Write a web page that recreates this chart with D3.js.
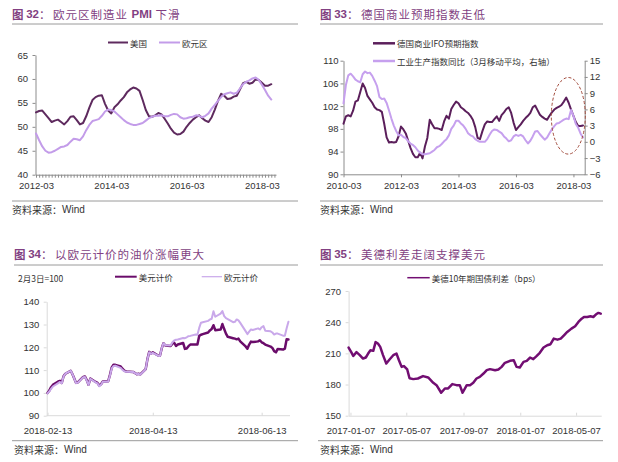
<!DOCTYPE html>
<html><head><meta charset="utf-8">
<script src="https://cdn.jsdelivr.net/npm/d3@7"></script>
<style>
body{margin:0;background:#fff;}
svg{display:block;}
</style></head><body>
<svg id="c" width="618" height="462"></svg>
<script>
// ---------- DATA ----------
// Fig 32: PMI, monthly 2012-03 .. 2018-06
const pmiStart = "2012-03", pmiEnd = "2018-07";
const pmiTickLabels = ["2012-03","2014-03","2016-03","2018-03"];
const pmiYTicks = [40,45,50,55,60,65];
const pmiUS = [53.0,53.3,53.4,52.6,51.8,51.0,51.3,51.5,51.0,50.5,
  51.2,52.1,52.2,51.4,50.5,50.8,52.2,54.0,55.6,56.2,
  56.5,56.6,54.8,53.4,52.8,54.1,54.7,55.5,56.2,57.2,
  57.8,58.2,58.0,57.5,55.6,53.5,52.2,52.1,52.4,52.9,
  52.6,51.7,50.7,49.6,48.8,48.4,48.5,49.0,50.0,50.8,
  51.5,52.0,52.4,51.8,51.3,51.0,52.0,53.6,55.4,56.9,
  56.5,55.8,55.9,56.3,56.5,57.8,59.1,59.4,59.0,59.2,
  59.9,59.8,59.2,58.6,58.6,58.9];
const pmiEU = [48.6,47.2,45.9,45.0,44.6,44.7,45.0,45.4,45.8,45.9,
  46.2,46.9,47.5,47.4,47.2,48.0,49.3,50.4,51.2,51.4,
  51.6,52.3,53.2,53.6,53.5,53.2,52.6,52.0,51.4,50.9,
  50.6,50.4,50.4,50.6,50.8,51.3,51.8,52.1,52.3,52.3,
  52.4,52.2,52.2,52.5,52.7,52.6,52.0,51.7,51.8,52.0,
  52.1,52.4,52.3,52.0,52.3,52.8,53.8,54.6,55.4,56.2,
  56.8,57.0,57.2,56.9,57.1,58.0,58.9,59.4,59.7,60.1,
  60.3,59.8,58.8,57.7,56.5,55.7];

// Fig 33: IFO expectations and industrial production, monthly 2010-03 .. 2018-07
const ifoStart = "2010-03", ifoEnd = "2018-08";
const ifoTickLabels = ["2010-03","2012-03","2014-03","2016-03","2018-03"];
const ifoLeftTicks = [90,94,98,102,106,110];
const ifoRightTicks = [-6,-3,0,3,6,9,12,15];
const ifoExp = [98.9,100.2,100.4,100.2,101.2,102.8,103.0,104.5,106.0,105.2,
  103.8,103.2,102.6,101.8,101.4,101.3,101.0,98.9,96.5,95.6,
  95.7,95.6,95.7,96.7,98.4,97.9,97.2,95.9,94.6,93.6,
  93.0,93.0,93.8,92.8,94.9,96.4,99.6,98.8,98.1,98.1,
  98.0,97.8,99.3,100.3,99.8,101.5,102.2,102.8,102.5,101.8,
  101.5,101.1,100.8,100.3,99.6,98.3,96.4,96.2,97.6,98.8,
  99.3,99.2,99.2,99.7,100.2,99.4,100.4,100.9,101.5,101.8,
  100.8,99.1,97.8,98.3,98.8,99.4,99.9,100.3,100.8,101.8,
  102.1,101.3,100.5,100.1,99.8,99.6,100.3,100.9,101.4,101.7,
  101.9,102.2,102.8,103.5,102.6,101.4,100.3,99.2,98.5,98.5,
  98.6];
const indProd = [7.1,10.5,12.3,12.6,12.1,11.5,11.2,11.0,12.5,13.0,
  12.7,12.8,12.2,11.3,10.3,8.3,7.9,8.0,7.2,5.8,
  4.3,3.0,2.0,1.2,1.3,0.9,0.7,0.1,-0.3,-0.6,
  -1.0,-1.6,-2.0,-2.3,-2.3,-2.2,-2.1,-1.8,-1.5,-1.0,
  -0.8,-0.4,0.1,0.5,1.2,2.4,3.0,3.9,3.9,3.4,
  3.0,2.4,1.6,1.2,1.0,0.5,0.2,0.0,0.0,0.0,
  0.5,1.3,2.0,2.3,2.2,1.9,1.6,1.0,0.6,0.1,
  0.3,1.0,1.3,1.1,1.3,1.0,0.3,-0.3,0.2,1.0,
  1.9,2.0,1.4,0.9,0.4,0.8,1.6,2.3,2.9,3.4,
  3.5,3.8,4.1,4.3,4.2,5.9,4.8,3.3,2.6,1.5,
  0.8];

// Fig 34: oil price index (2018-02-13 = 100)
const oilDates = ["2018-02-13","2018-02-14","2018-02-15","2018-02-16","2018-02-19","2018-02-20","2018-02-21","2018-02-22","2018-02-23",
  "2018-02-26","2018-02-27","2018-02-28","2018-03-01","2018-03-02","2018-03-05","2018-03-06","2018-03-07","2018-03-08","2018-03-09",
  "2018-03-12","2018-03-13","2018-03-14","2018-03-15","2018-03-16","2018-03-19","2018-03-20","2018-03-21","2018-03-22","2018-03-23",
  "2018-03-26","2018-03-27","2018-03-28","2018-03-29","2018-04-02","2018-04-03","2018-04-04","2018-04-05","2018-04-06",
  "2018-04-09","2018-04-10","2018-04-11","2018-04-12","2018-04-13","2018-04-16","2018-04-17","2018-04-18","2018-04-19","2018-04-20",
  "2018-04-23","2018-04-24","2018-04-25","2018-04-26","2018-04-27","2018-04-30","2018-05-01","2018-05-02","2018-05-03","2018-05-04",
  "2018-05-07","2018-05-08","2018-05-09","2018-05-10","2018-05-11","2018-05-14","2018-05-15","2018-05-16","2018-05-17","2018-05-18",
  "2018-05-21","2018-05-22","2018-05-23","2018-05-24","2018-05-25","2018-05-28","2018-05-29","2018-05-30","2018-05-31","2018-06-01",
  "2018-06-04","2018-06-05","2018-06-06","2018-06-07","2018-06-08","2018-06-11","2018-06-12","2018-06-13","2018-06-14","2018-06-15",
  "2018-06-18","2018-06-19","2018-06-20","2018-06-21","2018-06-22","2018-06-25","2018-06-26","2018-06-27","2018-06-28"];
const oilUSD = [100.0,101.0,102.5,103.5,105.0,105.3,104.4,107.3,108.4,
  109.7,108.2,106.3,104.4,104.6,107.0,107.2,105.6,103.6,106.3,
  104.8,104.4,103.2,103.8,105.0,105.1,107.9,111.2,112.4,112.3,
  111.6,110.6,109.8,109.4,109.2,108.7,108.2,108.4,108.1,
  110.4,114.8,118.0,117.2,117.8,116.4,116.3,119.5,121.8,120.8,
  120.6,121.6,122.0,120.6,121.2,121.9,119.3,119.5,120.5,121.2,
  121.2,121.2,125.0,125.5,125.8,126.5,127.4,128.0,129.7,127.5,
  127.8,130.2,128.0,126.0,124.6,124.0,123.8,123.5,123.8,122.6,
  120.4,119.4,121.2,122.5,122.3,122.6,123.1,122.2,121.8,121.2,
  120.3,119.7,118.3,117.8,119.3,119.0,119.4,123.5,123.4];
const oilEUR = [99.8,100.6,101.8,102.8,104.3,104.8,104.2,107.2,108.4,
  109.7,108.2,106.3,104.3,104.5,106.9,107.0,105.4,103.5,106.2,
  104.6,104.2,102.9,103.6,104.9,105.0,107.6,110.8,111.8,111.9,
  111.0,110.1,109.5,109.3,109.2,108.7,108.2,108.3,108.0,
  110.4,114.8,117.8,117.1,117.6,116.3,116.2,119.6,121.8,120.9,
  120.8,122.2,123.0,123.3,123.4,124.1,124.0,124.4,124.9,125.0,
  125.6,125.5,128.5,130.8,131.0,131.6,132.2,132.5,135.8,133.4,
  134.8,135.9,133.7,132.8,132.4,131.0,131.2,132.2,131.8,130.7,
  127.1,125.8,126.9,127.8,127.6,128.3,127.8,128.8,129.3,127.3,
  127.0,126.5,125.6,126.0,126.0,125.1,125.1,128.4,131.2];
const oilTickLabels = ["2018-02-13","2018-04-13","2018-06-13"];
const oilYTicks = [90,100,110,120,130,140];

// Fig 35: US-German 10y spread (bps)
const sprDates = ["2017-01-03","2017-01-09","2017-01-13","2017-01-20","2017-01-27","2017-02-03","2017-02-09","2017-02-14","2017-02-19","2017-02-25",
  "2017-03-02","2017-03-07","2017-03-12","2017-03-18","2017-03-25","2017-04-01","2017-04-09","2017-04-16","2017-04-21","2017-04-27",
  "2017-05-02","2017-05-09","2017-05-14","2017-05-22","2017-06-01","2017-06-12","2017-06-23","2017-07-04","2017-07-11","2017-07-21",
  "2017-07-29","2017-08-05","2017-08-14","2017-08-23","2017-08-30","2017-09-05","2017-09-14","2017-09-21","2017-09-28","2017-10-05",
  "2017-10-12","2017-10-20","2017-10-27","2017-11-03","2017-11-14","2017-11-21","2017-11-28","2017-12-05","2017-12-16","2017-12-24",
  "2017-12-30","2018-01-06","2018-01-14","2018-01-21","2018-01-28","2018-02-04","2018-02-11","2018-02-18","2018-02-26","2018-03-06",
  "2018-03-13","2018-03-20","2018-03-28","2018-04-04","2018-04-11","2018-04-18","2018-04-27","2018-05-05","2018-05-12","2018-05-19",
  "2018-05-24","2018-05-31","2018-06-07","2018-06-13","2018-06-19","2018-06-24","2018-06-29"];
const sprVals = [215.6,211.0,207.5,211.2,208.3,205.0,206.0,209.8,213.0,212.4,
  220.8,219.5,216.2,208.3,200.2,204.1,208.2,209.8,203.6,197.0,
  197.7,194.5,186.0,185.2,185.8,188.1,186.8,181.7,179.4,172.1,
  176.2,176.2,180.4,179.4,179.4,172.1,179.4,179.4,181.7,185.8,
  187.4,190.6,193.8,194.8,193.8,194.5,197.0,200.9,202.8,203.4,
  197.0,196.4,201.8,202.8,206.0,204.4,207.3,210.5,215.6,217.8,
  218.8,224.2,223.2,224.2,227.4,230.6,233.8,236.1,240.2,243.4,
  245.0,245.0,245.7,245.0,247.6,248.9,248.2];
const sprTickLabels = ["2017-01-07","2017-05-07","2017-09-07","2018-01-07","2018-05-07"];
const sprYTicks = [150,180,210,240,270];

// ---------- DRAW ----------
const SANS = '"Liberation Sans", Arial, sans-serif';
const CJK = '"Noto Sans CJK SC", "Noto Sans CJK JP", sans-serif';
const TITLE_C = "#823f82";
const svg = d3.select("#c");
const parseDay = d3.timeParse("%Y-%m-%d");
const parseMon = d3.timeParse("%Y-%m");
const fmtMon = d3.timeFormat("%Y-%m");

function title(x, y, num, parts) {
  const t = svg.append("text").attr("x", x).attr("y", y)
    .attr("dominant-baseline", "central").attr("fill", TITLE_C).attr("font-size", 11.5);
  t.append("tspan").attr("font-family", CJK).attr("font-weight", "bold").text("图 ");
  t.append("tspan").attr("font-family", SANS).attr("font-weight", "bold").text(num);
  t.append("tspan").attr("font-family", CJK).text("： ");
  parts.forEach(p => t.append("tspan").attr("font-family", p.s ? SANS : CJK)
    .attr("font-weight", p.s ? "bold" : "normal").attr("letter-spacing", p.s ? 0 : 1).text(p.t));
}
function hline(x1, x2, y, c) {
  svg.append("line").attr("x1", x1).attr("x2", x2).attr("y1", y).attr("y2", y)
    .attr("stroke", c || "#9a9a9a").attr("stroke-width", 1);
}
function footer(x, y) {
  const t = svg.append("text").attr("x", x).attr("y", y).attr("dominant-baseline", "central")
    .attr("fill", "#333").attr("font-size", 10);
  t.append("tspan").attr("font-family", CJK).text("资料来源：");
  t.append("tspan").attr("font-family", SANS).text("Wind");
}
function legendItem(x1, x2, y, color, w, label) {
  svg.append("line").attr("x1", x1).attr("x2", x2).attr("y1", y).attr("y2", y)
    .attr("stroke", color).attr("stroke-width", w);
  svg.append("text").attr("x", x2 + 2).attr("y", y).attr("dominant-baseline", "central")
    .attr("font-family", CJK).attr("font-size", 8.5).attr("fill", "#333").text(label);
}
function styleAxis(g, color, fs) {
  g.select(".domain").attr("stroke", color);
  g.selectAll(".tick line").attr("stroke", color);
  g.selectAll("text").attr("fill", "#333").attr("font-size", fs).attr("font-family", SANS);
}
function linePath(data, x, y, color, w) {
  svg.append("path").datum(data).attr("fill", "none").attr("stroke", color)
    .attr("stroke-width", w).attr("stroke-linejoin", "round").attr("stroke-linecap", "round")
    .attr("d", d3.line().x(d => x(d[0])).y(d => y(d[1])));
}

// ===== Panel 32 =====
title(12, 14, "32", [{t:"欧元区制造业 "}, {t:"PMI", s:1}, {t:" 下滑"}]);
hline(12, 298, 24);
hline(12, 298, 201);
footer(12, 208.5);
{
  const months = d3.timeMonth.range(parseMon(pmiStart), parseMon(pmiEnd)).map(fmtMon);
  const x = d3.scaleLinear().domain([0, months.length + 0.5]).range([36, 276]);
  const y = d3.scaleLinear().domain([40, 65]).range([174.7, 55]);
  const gx = svg.append("g").attr("transform", "translate(0,174.7)")
    .call(d3.axisBottom(x).tickValues(d3.range(0, months.length + 1)).tickSize(3).tickSizeOuter(0).tickPadding(4.5)
      .tickFormat(i => pmiTickLabels.includes(months[i]) ? months[i] : ""));
  styleAxis(gx, "#8c8c8c", 9.5);
  const gy = svg.append("g").attr("transform", "translate(35.5,0)")
    .call(d3.axisLeft(y).tickValues(pmiYTicks).tickSize(3).tickSizeOuter(0).tickPadding(4.5));
  styleAxis(gy, "#8c8c8c", 9.5);
  linePath(pmiUS.map((v, i) => [i, v]), x, y, "#5e2a5e", 2);
  linePath(pmiEU.map((v, i) => [i, v]), x, y, "#c39ce9", 2);
  legendItem(108, 128, 42.5, "#5e2a5e", 2, "美国");
  legendItem(159, 180, 42.5, "#c39ce9", 2, "欧元区");
}

// ===== Panel 33 =====
title(320, 14, "33", [{t:"德国商业预期指数走低"}]);
hline(320, 603, 24);
hline(320, 603, 201);
footer(320, 208.5);
{
  const months = d3.timeMonth.range(parseMon(ifoStart), parseMon(ifoEnd)).map(fmtMon);
  const x = d3.scaleLinear().domain([0, 100.7]).range([343.5, 584.7]);
  const yL = d3.scaleLinear().domain([90, 110]).range([174.3, 60.7]);
  const yR = d3.scaleLinear().domain([-6, 15]).range([174.3, 60.7]);
  const tickIdx = ifoTickLabels.map(l => months.indexOf(l));
  const gx = svg.append("g").attr("transform", "translate(0,174.3)")
    .call(d3.axisBottom(x).tickValues(tickIdx).tickSize(3).tickSizeOuter(0).tickPadding(5)
      .tickFormat(i => months[i]));
  styleAxis(gx, "#8c8c8c", 9.5);
  const gl = svg.append("g").attr("transform", "translate(343.5,0)")
    .call(d3.axisLeft(yL).tickValues(ifoLeftTicks).tickSize(3).tickSizeOuter(0).tickPadding(2));
  styleAxis(gl, "#8c8c8c", 9.5);
  const gr = svg.append("g").attr("transform", "translate(584.7,0)")
    .call(d3.axisRight(yR).tickValues(ifoRightTicks).tickSize(3).tickSizeOuter(0).tickPadding(2));
  styleAxis(gr, "#8c8c8c", 9.5);
  linePath(ifoExp.map((v, i) => [i, v]), x, yL, "#5b1f5b", 2);
  linePath(indProd.map((v, i) => [i, v]), x, yR, "#c6a0ee", 2);
  svg.append("ellipse").attr("cx", 568.3).attr("cy", 115.8).attr("rx", 17).attr("ry", 38.3)
    .attr("fill", "none").attr("stroke", "#a24b3c").attr("stroke-width", 1).attr("stroke-dasharray", "3,2");
  legendItem(373, 395, 43.3, "#5b1f5b", 2.5, "德国商业IFO预期指数");
  legendItem(373, 395, 61, "#c6a0ee", 2.5, "工业生产指数同比（3月移动平均，右轴）");
}

// ===== Panel 34 =====
title(14, 254, "34", [{t:"以欧元计价的油价涨幅更大"}]);
hline(14, 298, 265);
hline(12, 298, 440.7);
footer(14, 449.3);
{
  const x = d3.scaleTime().domain([parseDay("2018-02-13"), parseDay("2018-06-30")]).range([47.5, 292]);
  const y = d3.scaleLinear().domain([90, 140]).range([415.7, 301.7]);
  const gx = svg.append("g").attr("transform", "translate(0,415.7)")
    .call(d3.axisBottom(x).tickValues(oilTickLabels.map(parseDay)).tickSize(-3).tickSizeOuter(0).tickPadding(12)
      .tickFormat(d3.timeFormat("%Y-%m-%d")));
  gx.select(".domain").attr("d", "M46.7,0H290");
  styleAxis(gx, "#dadada", 9.5);
  const gy = svg.append("g").attr("transform", "translate(46.7,0)")
    .call(d3.axisLeft(y).tickValues(oilYTicks).tickSize(3).tickSizeOuter(0).tickPadding(4.4));
  styleAxis(gy, "#dadada", 9.5);
  const dates = oilDates.map(parseDay);
  linePath(dates.map((d, i) => [d, oilUSD[i]]), x, y, "#6a0c6a", 2.5);
  linePath(dates.map((d, i) => [d, oilEUR[i]]), x, y, "#c9a8ea", 2);
  svg.append("text").attr("x", 18).attr("y", 277.7).attr("dominant-baseline", "central")
    .attr("font-family", CJK).attr("font-size", 8.5).attr("fill", "#333").text("2月3日=100");
  legendItem(115, 136.7, 276.7, "#6a0c6a", 2, "美元计价");
  legendItem(201.7, 222, 276.7, "#c9a8ea", 1.2, "欧元计价");
}

// ===== Panel 35 =====
title(320, 254, "35", [{t:"美德利差走阔支撑美元"}]);
hline(320, 603, 265);
hline(318, 603, 440.7);
footer(320, 449.3);
{
  const x = d3.scaleTime().domain([parseDay("2017-01-03"), parseDay("2018-06-30")]).range([348.6, 601.2]);
  const y = d3.scaleLinear().domain([150, 270]).range([415.7, 291]);
  const gx = svg.append("g").attr("transform", "translate(0,415.7)")
    .call(d3.axisBottom(x).tickValues(sprTickLabels.map(parseDay)).tickSize(-3).tickSizeOuter(0).tickPadding(12)
      .tickFormat(d3.timeFormat("%Y-%m-%d")));
  styleAxis(gx, "#dadada", 9.5);
  const gy = svg.append("g").attr("transform", "translate(348.6,0)")
    .call(d3.axisLeft(y).tickValues(sprYTicks).tickSize(3).tickSizeOuter(0).tickPadding(4.5));
  styleAxis(gy, "#dadada", 9.5);
  const dates = sprDates.map(parseDay);
  linePath(dates.map((d, i) => [d, sprVals[i]]), x, y, "#720e72", 2.5);
  legendItem(407.3, 429.7, 277.7, "#720e72", 1.5, "美德10年期国债利差（bps）");
}
</script>
</body></html>
